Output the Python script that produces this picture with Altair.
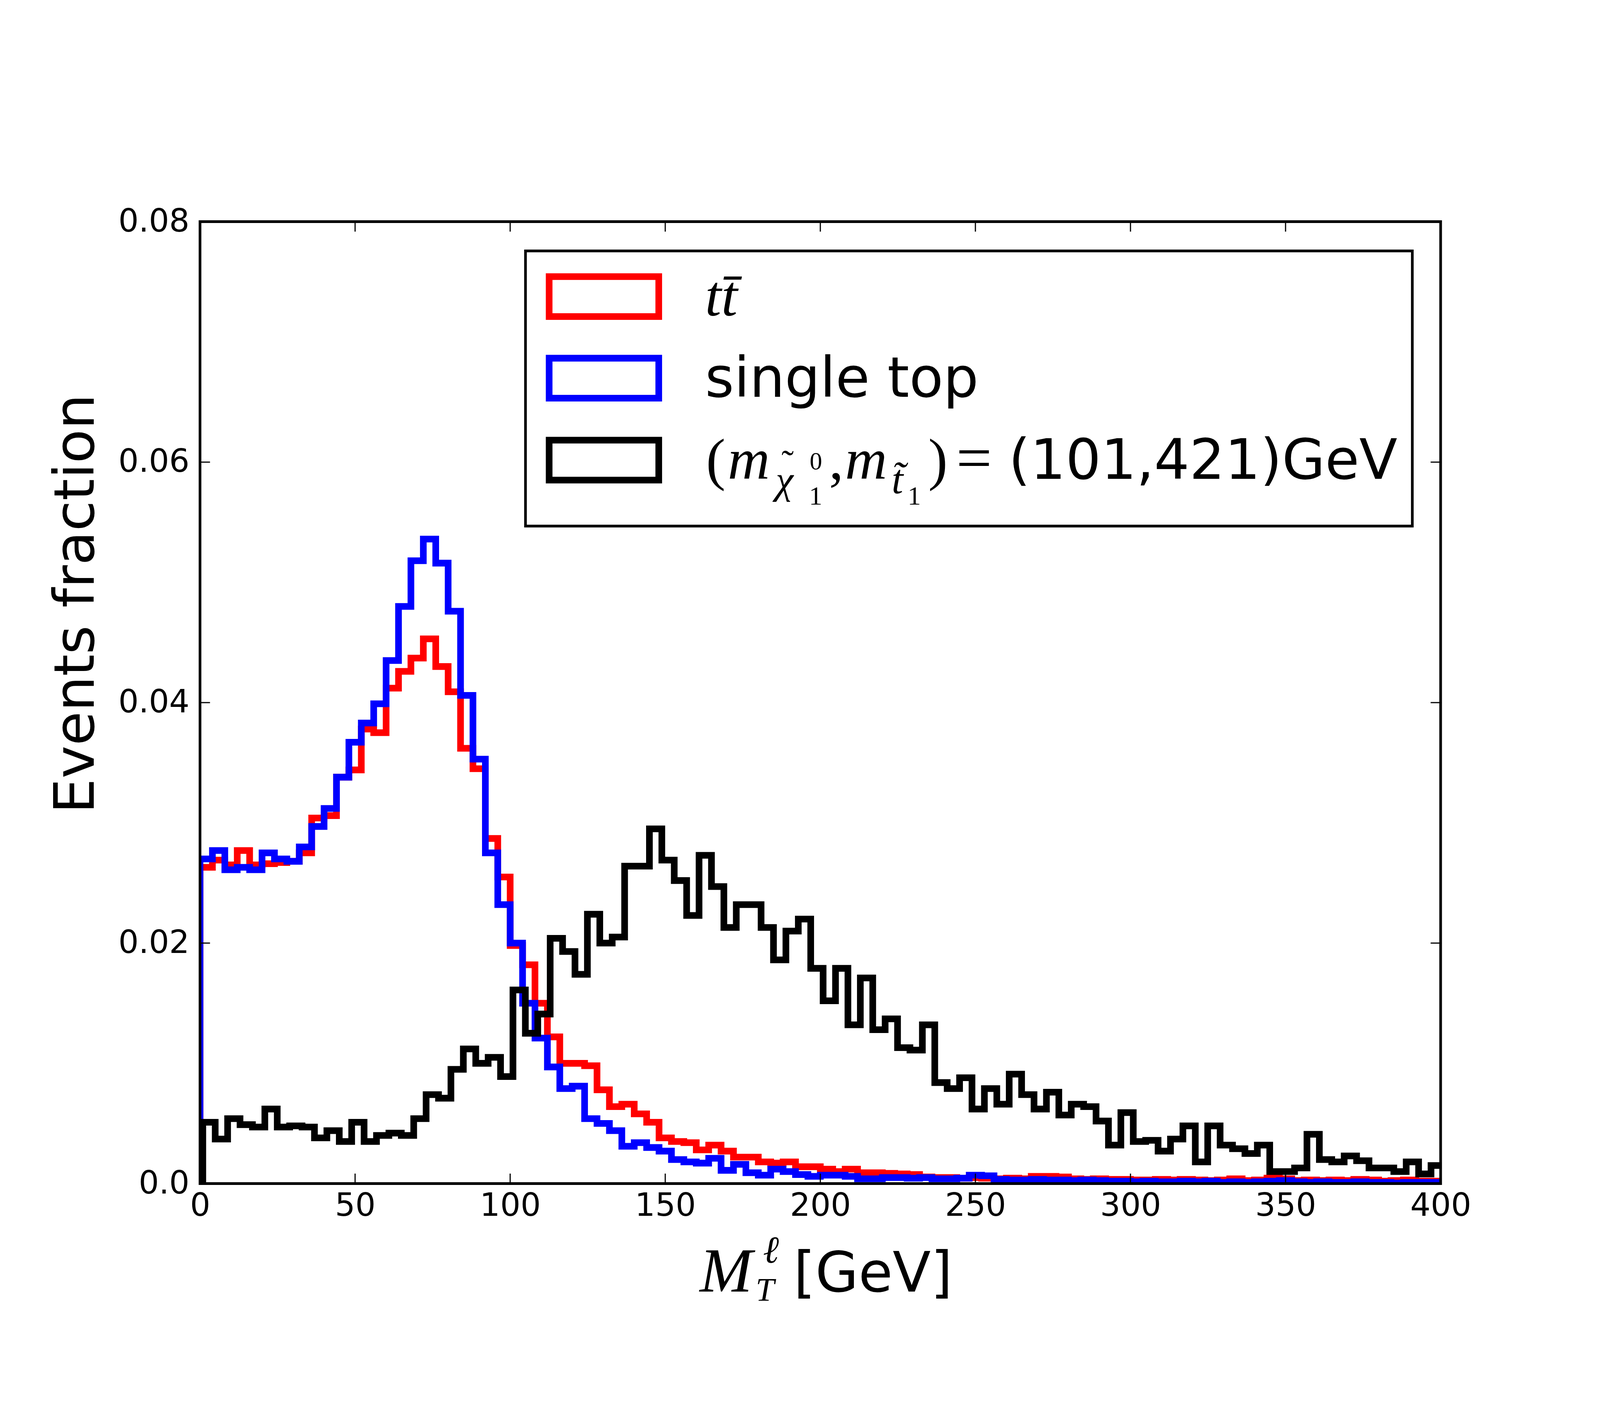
import altair as alt
import pandas as pd

# ---------------- data ----------------
BIN_WIDTH = 4.0
BKG_BIN_START = 0.0
SIG_BIN_START = 0.9

TTBAR = [0.0263, 0.0269, 0.0265, 0.0277, 0.0265, 0.0266, 0.0267, 0.0268, 0.0275, 0.0304,
         0.0306, 0.0338, 0.0344, 0.0378, 0.0375, 0.0412, 0.0426, 0.0437, 0.0453, 0.0430,
         0.0409, 0.0362, 0.0345, 0.0287, 0.0255, 0.0198, 0.0182, 0.0150, 0.0122, 0.0100,
         0.0100, 0.0098, 0.0078, 0.0064, 0.0066, 0.0058, 0.0051, 0.0038, 0.0035, 0.0034,
         0.0028, 0.0032, 0.0027, 0.0022, 0.0022, 0.0018, 0.0017, 0.0018, 0.0014, 0.0014,
         0.0012, 0.0010, 0.0012, 0.0009, 0.0009, 0.00085, 0.0008, 0.00075, 0.00055, 0.0005,
         0.0005, 0.00045, 0.0005, 0.00045, 0.0004, 0.00045, 0.0004, 0.0006, 0.0006, 0.00055,
         0.0004, 0.00035, 0.0004, 0.00035, 0.00035, 0.0003, 0.0003, 0.00035, 0.0003, 0.00035,
         0.0003, 0.00025, 0.0003, 0.0004, 0.00025, 0.0003, 0.00045, 0.0004, 0.00025, 0.0003,
         0.00025, 0.0003, 0.00025, 0.00035, 0.0003, 0.0002, 0.00025, 0.0003, 0.0002, 0.0002]

SINGLE_TOP = [0.0270, 0.0277, 0.0261, 0.0263, 0.0261, 0.0275, 0.0270, 0.0268, 0.0280, 0.0297,
              0.0312, 0.0338, 0.0367, 0.0383, 0.0399, 0.0435, 0.0480, 0.0518, 0.0536, 0.0516,
              0.0476, 0.0406, 0.0353, 0.0275, 0.0232, 0.0200, 0.0150, 0.0121, 0.0097, 0.0079,
              0.0081, 0.0054, 0.0050, 0.0044, 0.0031, 0.0034, 0.0030, 0.0027, 0.0020, 0.0018,
              0.0017, 0.0021, 0.0011, 0.0016, 0.0009, 0.0007, 0.0012, 0.0010, 0.00075, 0.0006,
              0.0007, 0.0007, 0.0006, 0.0004, 0.0004, 0.0005, 0.0005, 0.00045, 0.0005, 0.0004,
              0.0004, 0.00045, 0.0007, 0.00065, 0.00035, 0.0003, 0.0003, 0.00035, 0.0003, 0.0003,
              0.00025, 0.0003, 0.00025, 0.0002, 0.0002, 0.00015, 0.0002, 0.00015, 0.00015, 0.0002,
              0.00015, 0.0002, 0.0001, 0.00015, 0.0001, 0.00015, 0.0002, 0.00025, 0.00015, 0.0001,
              0.00015, 0.0001, 0.0001, 0.00015, 0.0001, 0.0001, 0.00005, 0.0001, 0.0001, 0.0001]

SIGNAL = [0.0051, 0.0037, 0.0054, 0.0049, 0.0047, 0.0062, 0.0047, 0.0048, 0.0047, 0.0038,
          0.0044, 0.0035, 0.0051, 0.0035, 0.0040, 0.0042, 0.0040, 0.0054, 0.0074, 0.0071,
          0.0095, 0.0112, 0.0100, 0.0105, 0.0089, 0.0161, 0.0125, 0.0141, 0.0204, 0.0193,
          0.0174, 0.0224, 0.0200, 0.0205, 0.0264, 0.0264, 0.0295, 0.0269, 0.0252, 0.0223,
          0.0273, 0.0247, 0.0213, 0.0232, 0.0232, 0.0213, 0.0186, 0.0210, 0.0220, 0.0179,
          0.0152, 0.0179, 0.0132, 0.0171, 0.0128, 0.0137, 0.0113, 0.0111, 0.0132, 0.0084,
          0.0079, 0.0088, 0.0062, 0.0079, 0.0066, 0.0091, 0.0074, 0.0062, 0.0076, 0.0057,
          0.0066, 0.0064, 0.0052, 0.0032, 0.0059, 0.0035, 0.0036, 0.0027, 0.0037, 0.0048,
          0.0018, 0.0048, 0.0032, 0.0029, 0.0025, 0.0032, 0.0010, 0.0010, 0.0013, 0.0041,
          0.0020, 0.0018, 0.0023, 0.0019, 0.0013, 0.0013, 0.0010, 0.0018, 0.0008, 0.0015]

X_TICKS = [0, 50, 100, 150, 200, 250, 300, 350, 400]
Y_TICKS = [0.0, 0.02, 0.04, 0.06, 0.08]

X_DOMAIN = [0, 400]
Y_DOMAIN = [0, 0.08]

Y_TITLE = "Events fraction"
LEG_SINGLE = "single top"
LEG_SIGNAL_NUM = "(101,421)GeV"

# ---------------- layout ----------------
W, H = 3724, 2888
PAD_L, PAD_T, PAD_R, PAD_B = 591, 345, 469, 351
LW = 20
SANS = "DejaVu Sans"
SERIF = "Liberation Serif"


def step_frame(values, start):
    edges = [start + BIN_WIDTH * i for i in range(len(values) + 1)]
    pts = [(edges[0], 0.0)]
    for i, v in enumerate(values):
        pts.append((edges[i], v))
    pts.append((edges[-1], values[-1]))
    pts.append((edges[-1], 0.0))
    return pd.DataFrame({"x": [p[0] for p in pts], "y": [p[1] for p in pts],
                         "idx": list(range(len(pts)))})


xscale = alt.Scale(domain=X_DOMAIN, nice=False, zero=False)
yscale = alt.Scale(domain=Y_DOMAIN, nice=False, zero=False)

x_axis = alt.Axis(values=X_TICKS, ticks=False, domain=False, grid=False,
                  labelFont=SANS, labelFontSize=96, labelColor="black",
                  labelPadding=20, labelFlush=False, labelLimit=0,
                  labelOverlap=False, format="d", title="", zindex=1)
y_axis = alt.Axis(values=Y_TICKS, ticks=False, domain=False, grid=False,
                  labelFont=SANS, labelFontSize=96, labelColor="black",
                  labelPadding=32, labelFlush=False, labelLimit=0,
                  labelOverlap=False,
                  labelExpr="datum.value == 0 ? '0.0' : format(datum.value, '.2f')",
                  title=Y_TITLE, titleFont=SANS, titleFontSize=167,
                  titleFontWeight="normal", titleColor="black", titleLimit=0,
                  titleAngle=270, titleX=-319, titleY=1147,
                  titleBaseline="alphabetic", titleAlign="center", zindex=1)

XENC = dict(scale=xscale, axis=x_axis)
YENC = dict(scale=yscale, axis=y_axis)

one = pd.DataFrame({"a": [0]})

# invisible rectangle that fixes the overall extent of the picture
canvas = alt.Chart(one).mark_rect(fill="white", opacity=0).encode(
    x=alt.value(-PAD_L), x2=alt.value(W + PAD_R),
    y=alt.value(-PAD_T), y2=alt.value(H + PAD_B))


def hist_layer(values, start, color):
    return alt.Chart(step_frame(values, start)).mark_line(
        interpolate="step-after", strokeWidth=LW, color=color, clip=True,
        strokeJoin="miter"
    ).encode(
        x=alt.X("x:Q", **XENC),
        y=alt.Y("y:Q", **YENC),
        order="idx:Q",
    )


red = hist_layer(TTBAR, BKG_BIN_START, "#ff0000")
blue = hist_layer(SINGLE_TOP, BKG_BIN_START, "#0000ff")
black = hist_layer(SIGNAL, SIG_BIN_START, "#000000")

xt = pd.DataFrame({"x": X_TICKS})
yt = pd.DataFrame({"y": Y_TICKS})
TL = 30
TW = 3.5
tick_bottom = alt.Chart(xt).mark_rule(color="black", strokeWidth=TW).encode(
    x=alt.X("x:Q", **XENC), y=alt.value(H), y2=alt.value(H - TL))
tick_top = alt.Chart(xt).mark_rule(color="black", strokeWidth=TW).encode(
    x=alt.X("x:Q", **XENC), y=alt.value(0), y2=alt.value(TL))
tick_left = alt.Chart(yt).mark_rule(color="black", strokeWidth=TW).encode(
    y=alt.Y("y:Q", **YENC), x=alt.value(0), x2=alt.value(TL))
tick_right = alt.Chart(yt).mark_rule(color="black", strokeWidth=TW).encode(
    y=alt.Y("y:Q", **YENC), x=alt.value(W), x2=alt.value(W - TL))

frame = alt.Chart(one).mark_rect(fill="white", fillOpacity=0, stroke="black",
                                 strokeWidth=8).encode(
    x=alt.value(0), x2=alt.value(W), y=alt.value(0), y2=alt.value(H))

# ---------------- legend ----------------
legend_box = alt.Chart(one).mark_rect(fill="white", stroke="black", strokeWidth=8).encode(
    x=alt.value(977), x2=alt.value(3639), y=alt.value(88), y2=alt.value(914))


def patch(yc, color):
    return alt.Chart(one).mark_rect(fill="white", fillOpacity=0, stroke=color,
                                    strokeWidth=LW, strokeJoin="miter").encode(
        x=alt.value(1048), x2=alt.value(1377), y=alt.value(yc - 60), y2=alt.value(yc + 60))


def txt(s, x, y, size, font=SANS, style="normal", align="left"):
    return alt.Chart(one).mark_text(text=s, font=font, fontSize=size, fontStyle=style,
                                    align=align, baseline="alphabetic",
                                    color="black").encode(x=alt.value(x), y=alt.value(y))


legend = [
    legend_box,
    patch(225, "#ff0000"), patch(470, "#0000ff"), patch(716, "#000000"),
    txt("tt\u0304", 1516, 282, 175, SERIF, "italic"),
    txt(LEG_SINGLE, 1516, 526, 167),
    txt("(", 1519, 772, 175, SERIF),
    txt("m", 1584, 772, 175, SERIF, "italic"),
    txt("\u03c7", 1728, 815, 120, SERIF, "italic"),
    txt("\u02dc", 1764, 762, 110, SERIF, align="center"),
    txt("0", 1830, 744, 75, SERIF),
    txt("1", 1828, 850, 80, SERIF),
    txt(",", 1888, 772, 175, SERIF),
    txt("m", 1936, 772, 175, SERIF, "italic"),
    txt("t\u0303", 2076, 815, 125, SERIF, "italic"),
    txt("1", 2124, 850, 80, SERIF),
    txt(")", 2186, 772, 175, SERIF),
    txt("=", 2270, 772, 190, SERIF),
    txt(LEG_SIGNAL_NUM, 2427, 772, 167),
]

# ---------------- x title ----------------
xtitle = [
    txt("M", 1500, 3212, 190, SERIF, "italic"),
    txt("\u2113", 1690, 3126, 115, SERIF, "italic"),
    txt("T", 1668, 3240, 100, SERIF, "italic"),
    txt("[GeV]", 1782, 3212, 167),
]

chart = alt.layer(
    canvas,
    red, blue, black,
    tick_bottom, tick_top, tick_left, tick_right,
    frame,
    *legend,
    *xtitle,
).properties(
    width=W, height=H,
    padding=0,
    autosize=alt.AutoSizeParams(type="pad"),
    background="white",
).configure_view(stroke="transparent")

chart.save("out.html", embed_options={"renderer": "svg", "actions": False})
